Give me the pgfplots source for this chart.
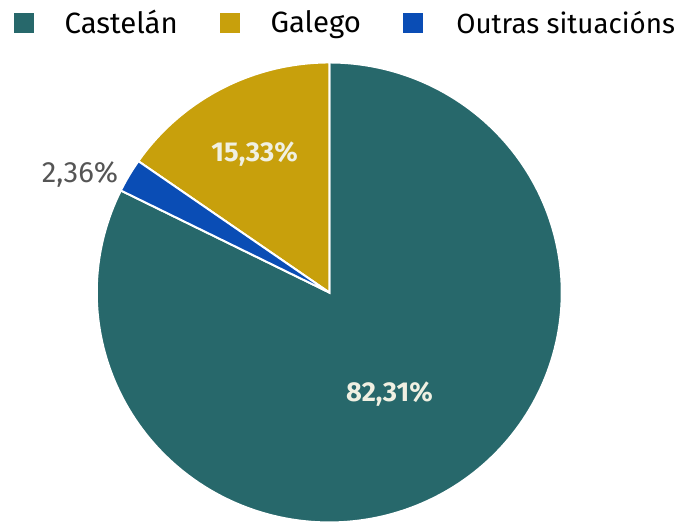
\documentclass[border=0pt]{standalone}
\usepackage{fontspec}
\setmainfont{Fira Sans}
\usepackage{pgfplots}
\pgfplotsset{compat=1.18}
\definecolor{cast}{HTML}{27686B}
\definecolor{gal}{HTML}{C8A00C}
\definecolor{outr}{HTML}{0A4DB5}
\definecolor{lab}{HTML}{F0F0E2}
\definecolor{gr}{HTML}{555555}
% values (percent)
\def\vGal{15.33}
\def\vOut{2.36}
\def\vCast{82.31}
\pgfmathsetmacro{\aA}{90}
\pgfmathsetmacro{\aB}{90+\vGal*3.6}
\pgfmathsetmacro{\aC}{\aB+\vOut*3.6}
\pgfmathsetmacro{\aD}{\aC+\vCast*3.6}
\begin{document}
\begin{tikzpicture}
\useasboundingbox (0pt,0pt) rectangle (510.75pt,393.75pt);
\begin{axis}[
  at={(72.56pt,1.9pt)}, anchor=south west, scale only axis,
  width=348.75pt, height=345pt,
  xmin=-1, xmax=1, ymin=-1, ymax=1,
  hide axis, clip=false,
  legend columns=3,
  legend style={at={(-0.178,1.086)}, anchor=west, draw=none, fill=none,
    inner sep=0pt, outer sep=0pt, font=\fontsize{22}{26}\selectfont,
    /tikz/every odd column/.append style={column sep=21pt},
    /tikz/every even column/.append style={column sep=29.5pt},
    cells={anchor=west}},
  legend image code/.code={\fill[#1, draw=none] (0pt,-7.5pt) rectangle (15pt,7.5pt);},
]
\addplot[fill=cast, draw=white, line width=1.5pt, data cs=polar, domain=\aC:\aD, samples=200] (x,1) -- (axis cs:0,0) -- cycle;
\addlegendentry{Castelán}
\addplot[fill=gal, draw=white, line width=1.5pt, data cs=polar, domain=\aA:\aB, samples=60] (x,1) -- (axis cs:0,0) -- cycle;
\addlegendentry{Galego}
\addplot[fill=outr, draw=white, line width=1.5pt, data cs=polar, domain=\aB:\aC, samples=20] (x,1) -- (axis cs:0,0) -- cycle;
\addlegendentry{\hspace{2pt}\fontsize{20.8}{25}\selectfont Outras situacións}
\node[text=lab, font=\fontsize{20.5}{24}\selectfont\bfseries] at (axis cs:-0.321,0.600) {15,33\%};
\node[text=lab, font=\fontsize{20.5}{24}\selectfont\bfseries] at (axis cs:0.259,-0.442) {82,31\%};
\node[text=gr, font=\fontsize{22}{26}\selectfont] at (axis cs:-1.072,0.514) {2,36\%};
\end{axis}
\end{tikzpicture}
\end{document}
